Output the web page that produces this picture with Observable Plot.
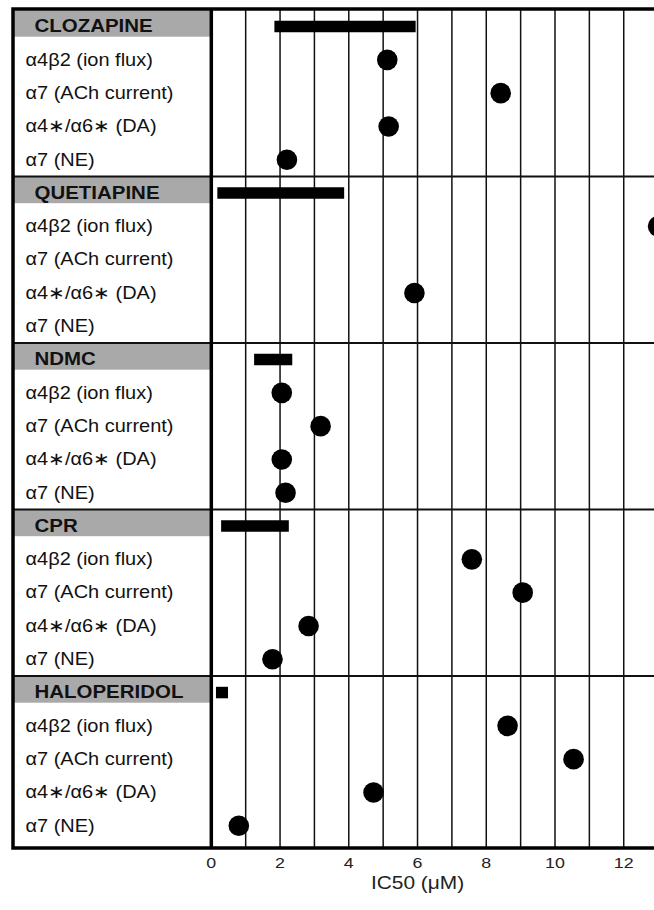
<!DOCTYPE html>
<html>
<head>
<meta charset="utf-8">
<script src="https://cdn.jsdelivr.net/npm/d3@7"></script>
<script src="https://cdn.jsdelivr.net/npm/@observablehq/plot@0.6"></script>
<style>
  html, body { margin: 0; padding: 0; background: #fff; overflow: hidden; }
  #chart svg { overflow: hidden; display: block; }
</style>
</head>
<body>
<div id="chart"></div>
<script>
// ---- data ----
const drugs = ["CLOZAPINE", "QUETIAPINE", "NDMC", "CPR", "HALOPERIDOL"];
const assays = ["α4β2 (ion flux)", "α7 (ACh current)", "α4∗/α6∗ (DA)", "α7 (NE)"];
// therapeutic concentration range (µM), drawn as black bar on the header row
const rangeLow  = [1.85, 0.19, 1.26, 0.30, 0.15];
const rangeHigh = [5.96, 3.88, 2.37, 2.27, 0.50];
// IC50 (µM) per assay, in the order of `assays`; null = not shown
const clozapine   = [5.12, 8.42, 5.16, 2.20];
const quetiapine  = [13.0, null, 5.91, null];
const ndmc        = [2.05, 3.18, 2.05, 2.16];
const cpr         = [7.58, 9.06, 2.83, 1.78];
const haloperidol = [8.62, 10.54, 4.72, 0.80];
const xTicks = [0, 2, 4, 6, 8, 10, 12];
const gridLines = [1, 2, 3, 4, 5, 6, 7, 8, 9, 10, 11, 12];
const axisTitle = "IC50 (μM)";

// ---- build tables ----
const ic50 = [clozapine, quetiapine, ndmc, cpr, haloperidol];
const rowsPerGroup = assays.length + 1;
const headers = drugs.map((name, g) => ({name, row: g * rowsPerGroup, lo: rangeLow[g], hi: rangeHigh[g]}));
const assayRows = [];
const points = [];
drugs.forEach((d, g) => {
  assays.forEach((a, j) => {
    const row = g * rowsPerGroup + j + 1;
    assayRows.push({label: a, row});
    const v = ic50[g][j];
    if (v != null) points.push({drug: d, assay: a, row, value: v});
  });
});
const nRows = drugs.length * rowsPerGroup;
const separators = drugs.slice(1).map((d, g) => (g + 1) * rowsPerGroup - 0.5);
const xMin = -5.77, xMax = 12.895;

const font = "'Liberation Sans', Arial, Helvetica, sans-serif";

const chart = Plot.plot({
  width: 654,
  height: 910,
  marginLeft: 12.5,
  marginRight: 0,
  marginTop: 8.5,
  marginBottom: 62.5,
  style: {fontFamily: font, background: "#fff", color: "#000"},
  x: {domain: [xMin, xMax], axis: null},
  y: {domain: [-0.5, nRows - 0.5], range: [9.4, 841.9], axis: null},
  marks: [
    Plot.rect(headers, {x1: xMin, x2: 0, y1: d => d.row - 0.5, y2: d => d.row + 0.5, insetTop: 1, insetBottom: 6, fill: "#a9a9a9"}),
    Plot.ruleX(gridLines, {stroke: "#111", strokeWidth: 1.5}),
    Plot.ruleY(separators, {stroke: "#111", strokeWidth: 2}),
    Plot.ruleX([0], {stroke: "#000", strokeWidth: 3.5}),
    Plot.frame({stroke: "#000", strokeWidth: 3.5, insetRight: -8}),
    Plot.ruleY(headers, {y: "row", x1: "lo", x2: "hi", stroke: "#000", strokeWidth: 11.5}),
    Plot.dot(points, {x: "value", y: "row", r: 10.3, fill: "#000", stroke: null, clip: true}),
    Plot.text(headers, {text: "name", y: "row", frameAnchor: "left", textAnchor: "start", dx: 21.5, fontSize: 17.5, fontWeight: "bold", fill: "#111", ariaDescription: "headerLabels"}),
    Plot.text(assayRows, {text: "label", y: "row", frameAnchor: "left", textAnchor: "start", dx: 12.5, fontSize: 18, fill: "#111", ariaDescription: "rowLabels"}),
    Plot.text(xTicks, {x: d => d, text: d => String(d), frameAnchor: "bottom", dy: 19.5, fontSize: 15.5, fill: "#222", ariaDescription: "tickLabels"}),
    Plot.text([axisTitle], {x: d3.mean(xTicks), text: d => d, frameAnchor: "bottom", dy: 41, fontSize: 19, fill: "#222", ariaDescription: "axisTitle"})
  ]
});

document.getElementById("chart").appendChild(chart);

// widen text glyphs horizontally to match the reference's stretched lettering
const stretch = {headerLabels: 1.17, rowLabels: 1.11, tickLabels: 1.15, axisTitle: 1.1};
Object.entries(stretch).forEach(([name, s]) => {
  d3.select(chart).selectAll(`g[aria-description="${name}"] text`).each(function() {
    const t = this.getAttribute("transform");
    if (t) {
      this.setAttribute("transform", `${t} scale(${s},1)`);
    } else {
      const x = +this.getAttribute("x") || 0, y = +this.getAttribute("y") || 0;
      this.removeAttribute("x"); this.removeAttribute("y");
      this.setAttribute("transform", `translate(${x},${y}) scale(${s},1)`);
    }
  });
});
</script>
</body>
</html>
